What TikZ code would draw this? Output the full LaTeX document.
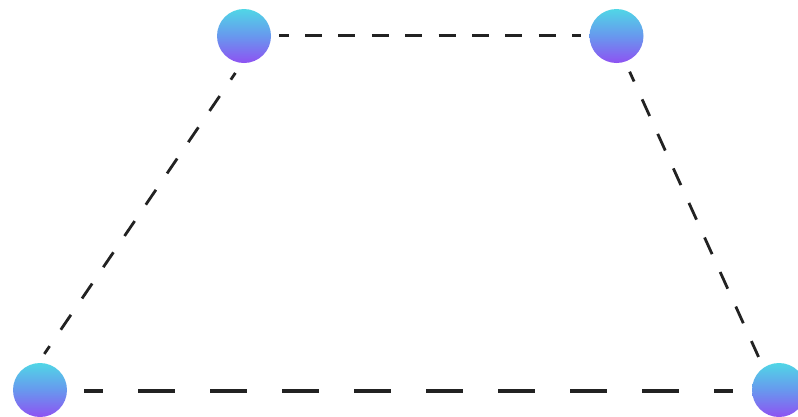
\documentclass[tikz,border=0pt]{standalone}
\usetikzlibrary{shadings}
\definecolor{dotTop}{RGB}{80,214,230}
\definecolor{dotMid}{RGB}{104,152,238}
\definecolor{dotBot}{RGB}{142,82,242}
\definecolor{edgeInk}{RGB}{34,34,34}
\tikzset{
  dot/.style={circle, minimum size=54pt, inner sep=0pt, outer sep=0pt,
    top color=dotTop, bottom color=dotBot, middle color=dotMid, draw=none},
  edgeline/.style={draw=edgeInk, line cap=butt}
}
\begin{document}
\begin{tikzpicture}[x=1pt,y=-1pt]
\useasboundingbox (0,0) rectangle (798,416);
\clip (0,0) rectangle (798,416);
\fill[white] (0,0) rectangle (798,416);
\node[dot] (tl) at (244,36) {};
\node[dot] (tr) at (616.5,36) {};
\node[dot] (bl) at (40,390) {};
\node[dot] (br) at (779,390) {};
% top edge
\draw[edgeline, line width=3pt, dash pattern=on 17pt off 16.4pt, dash phase=7.4pt,
  shorten <=8pt, shorten >=9pt] ([yshift=1pt]tl.east) -- ([yshift=1pt]tr.west);
% left edge
\draw[edgeline, line width=2.8pt, dash pattern=on 18pt off 19.8pt, dash phase=9.9pt,
  shorten <=44.7pt, shorten >=43.6pt] ([xshift=16.5pt]tl.center) -- ([xshift=-20.2pt]bl.center);
% right edge
\draw[edgeline, line width=2.8pt, dash pattern=on 18.3pt off 19.6pt, dash phase=7.6pt,
  shorten <=39.2pt, shorten >=36.3pt] ([xshift=-3pt]tr.center) -- ([xshift=-5.5pt]br.center);
% bottom edge
\draw[edgeline, line width=4.6pt, dash pattern=on 37pt off 35pt, dash phase=18pt,
  shorten <=17pt, shorten >=19pt] ([yshift=-1pt]bl.east) -- ([yshift=-1pt]br.west);
\end{tikzpicture}
\end{document}
